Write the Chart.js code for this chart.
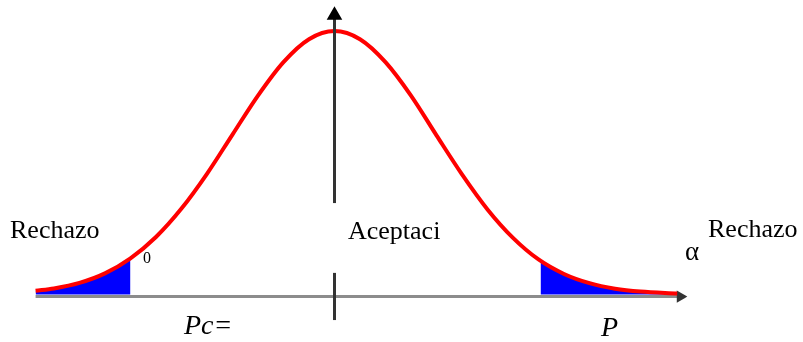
<!DOCTYPE html>
<html>
<head>
<meta charset="utf-8">
<script src="https://cdn.jsdelivr.net/npm/chart.js@4"></script>
<style>
  body { margin: 0; background: #fff; }
  #wrap { width: 803px; height: 342px; }
</style>
</head>
<body>
<div id="wrap"><canvas id="curveChart" width="803" height="342"></canvas></div>
<script>
// curva normal (x en desviaciones, y relativa al pico)
const curveX = [-2.93, -2.75, -2.5, -2.25, -2.0, -1.75, -1.5, -1.25, -1.0, -0.75, -0.5, -0.25, 0,
  0.25, 0.5, 0.75, 1.0, 1.25, 1.5, 1.75, 2.0, 2.25, 2.5, 2.75, 3.0, 3.36];
const curveY = [0.014, 0.023, 0.044, 0.080, 0.137, 0.218, 0.326, 0.458, 0.607, 0.755, 0.882, 0.969, 1.0,
  0.969, 0.882, 0.755, 0.604, 0.456, 0.323, 0.215, 0.133, 0.078, 0.043, 0.022, 0.011, 0.004];

// colas de rechazo
const leftTailX = [-2.93, -2.75, -2.5, -2.25, -2.0];
const leftTailY = [0.014, 0.023, 0.044, 0.080, 0.137];
const rightTailX = [2.02, 2.25, 2.5, 2.75, 3.0, 3.26];
const rightTailY = [0.130, 0.078, 0.043, 0.022, 0.011, 0.005];

// textos
const labels = [
  { text: "Rechazo", x: 10, y: 238, font: "26px 'Liberation Serif'" },
  { text: "Aceptaci", x: 348, y: 239, font: "26px 'Liberation Serif'" },
  { text: "Rechazo", x: 708, y: 237, font: "26px 'Liberation Serif'" },
  { text: "α", x: 685, y: 260, font: "27px 'Liberation Serif'" },
  { text: "0", x: 143, y: 263, font: "16px 'Liberation Serif'" },
  { text: "Pc=", x: 184, y: 334, font: "italic 28px 'Liberation Serif'" },
  { text: "P", x: 601, y: 336, font: "italic 28px 'Liberation Serif'" }
];

const pts = (xs, ys) => xs.map((x, i) => ({ x, y: ys[i] }));

const textPlugin = {
  id: "textos",
  afterDraw(chart) {
    const ctx = chart.ctx;
    ctx.save();
    ctx.fillStyle = "#000";
    ctx.textBaseline = "alphabetic";
    labels.forEach((l) => {
      ctx.font = l.font;
      ctx.fillText(l.text, l.x, l.y);
    });
    ctx.restore();
  }
};

new Chart(document.getElementById("curveChart"), {
  type: "scatter",
  data: {
    datasets: [
      {
        data: pts(leftTailX, leftTailY),
        showLine: true, fill: "origin", backgroundColor: "#0000ff",
        borderWidth: 0, pointRadius: 0, cubicInterpolationMode: "monotone", order: 5
      },
      {
        data: pts(rightTailX, rightTailY),
        showLine: true, fill: "origin", backgroundColor: "#0000ff",
        borderWidth: 0, pointRadius: 0, cubicInterpolationMode: "monotone", order: 5
      },
      {
        // eje horizontal
        data: [{ x: -2.93, y: -0.008 }, { x: 3.39, y: -0.008 }],
        showLine: true, borderColor: "#8c8c8c", borderWidth: 3,
        pointRadius: [0, 4], pointStyle: "triangle", pointRotation: 90,
        pointBackgroundColor: "#333", pointBorderColor: "#333", order: 4
      },
      {
        data: pts(curveX, curveY),
        showLine: true, borderColor: "#ff0000", borderWidth: 4,
        pointRadius: 0, cubicInterpolationMode: "monotone", order: 2
      },
      {
        // eje vertical
        data: [{ x: 0, y: 0.347 }, { x: 0, y: 1.06 }],
        showLine: true, borderColor: "#333", borderWidth: 3,
        pointRadius: [0, 6], pointStyle: "triangle",
        pointBackgroundColor: "#000", pointBorderColor: "#000", order: 1
      },
      {
        data: [{ x: 0, y: -0.097 }, { x: 0, y: 0.082 }],
        showLine: true, borderColor: "#333", borderWidth: 3,
        pointRadius: 0, order: 1
      }
    ]
  },
  options: {
    responsive: false,
    animation: false,
    layout: { padding: 0, autoPadding: false },
    plugins: { legend: { display: false }, tooltip: { enabled: false } },
    scales: {
      x: { type: "linear", min: -3.279, max: 4.593, display: false },
      y: { min: -0.1803, max: 1.1177, display: false }
    }
  },
  plugins: [textPlugin]
});
</script>
</body>
</html>
